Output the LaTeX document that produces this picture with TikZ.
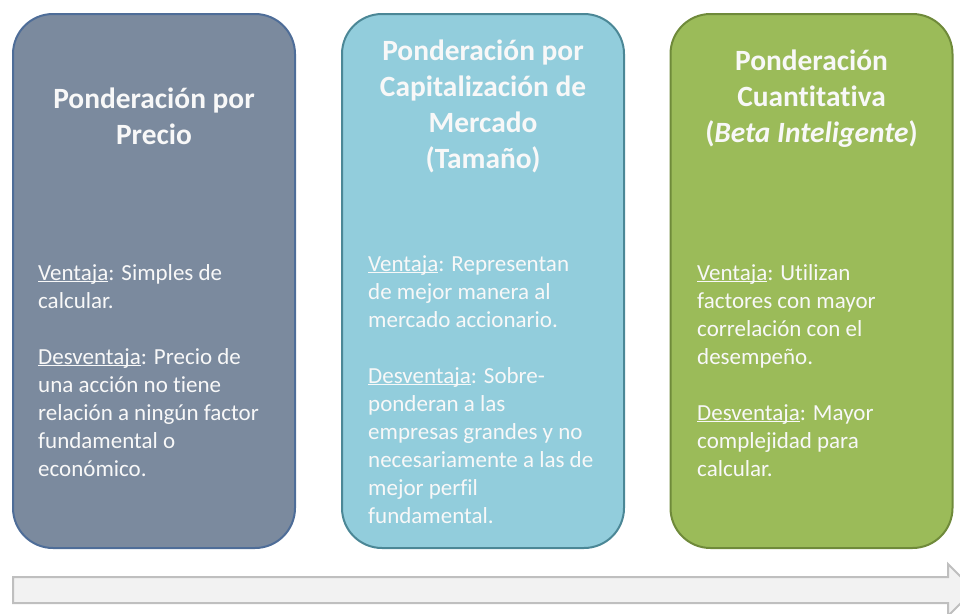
\documentclass[tikz,border=0pt]{standalone}
\usepackage{fontspec}
\setmainfont{Carlito}[Ligatures=NoCommon]
\definecolor{precioFill}{HTML}{7B8A9E}
\definecolor{precioLine}{HTML}{4E6D98}
\definecolor{capFill}{HTML}{92CDDC}
\definecolor{capLine}{HTML}{4B8796}
\definecolor{cuantFill}{HTML}{9BBB59}
\definecolor{cuantLine}{HTML}{6F8A3A}
\definecolor{flechaFill}{HTML}{F2F2F2}
\definecolor{flechaLine}{HTML}{BFBFBF}
\definecolor{textoBlanco}{HTML}{F8F8F8}
\newcommand{\subraya}[1]{\setbox0\hbox{#1}\rlap{\rule[-2.2pt]{\wd0}{0.9pt}}#1}

\begin{document}
\begin{tikzpicture}[x=1pt, y=-1pt,
  caja/.style={rounded corners=40pt, line width=2pt, minimum width=282pt, minimum height=534pt, inner sep=0pt},
  titulo/.style={text=textoBlanco, font=\bfseries\fontsize{29.4}{36}\selectfont, align=center, inner sep=0pt},
  cuerpo/.style={text=textoBlanco, font=\fontsize{23}{28}\selectfont, align=left, anchor=north west, inner sep=0pt}]
\useasboundingbox (0,0) rectangle (960,613);

% cajas
\node [caja, fill=precioFill, draw=precioLine] (precio) at (154,281) {};
\node [caja, fill=capFill, draw=capLine] (capital) at (483,281) {};
\node [caja, fill=cuantFill, draw=cuantLine] (cuanti) at (811.5,281) {};

% titulos
\node [titulo] (precioT) at (154,116) {Ponderación por\\Precio};
\node [titulo] (capitalT) at (483,106) {Ponderación por\\Capitalización de\\Mercado\\(Tamaño)};
\node [titulo] (cuantiT) at (811.5,99) {Ponderación\\Cuantitativa\\(\textit{Beta Inteligente})};

% textos
\node [cuerpo] (precioB) at (38,264) {\subraya{Ventaja}: Simples de\\calcular.\\[28pt]
  \subraya{Desventaja}: Precio de\\una acción no tiene\\relación a ningún factor\\fundamental o\\económico.};
\node [cuerpo] (capitalB) at (368,255) {\subraya{Ventaja}: Representan\\de mejor manera al\\mercado accionario.\\[28pt]
  \subraya{Desventaja}: Sobre-\\ponderan a las\\empresas grandes y no\\necesariamente a las de\\mejor perfil\\fundamental.};
\node [cuerpo] (cuantiB) at (697,264) {\subraya{Ventaja}: Utilizan\\factores con mayor\\correlación con el\\desempeño.\\[28pt]
  \subraya{Desventaja}: Mayor\\complejidad para\\calcular.};

% flecha
\draw [fill=flechaFill, draw=flechaLine, line width=2pt] (13,577) -- (948,577) -- (948,564) -- (974,590) -- (948,616) -- (948,603) -- (13,603) -- cycle;

\end{tikzpicture}
\end{document}
